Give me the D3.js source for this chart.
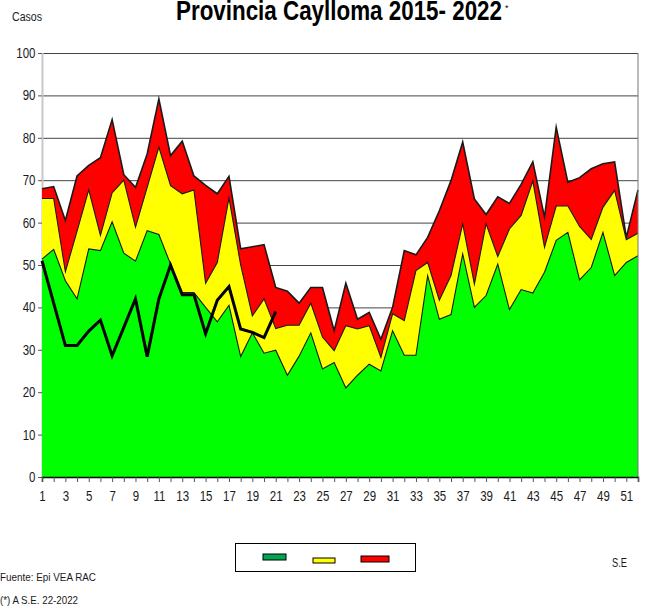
<!DOCTYPE html>
<html>
<head>
<meta charset="utf-8">
<script src="https://cdn.jsdelivr.net/npm/d3@7/dist/d3.min.js"></script>
<style>
  body { margin: 0; background: #fff; }
  text { font-family: "Liberation Sans Narrow", "Arial Narrow", "Liberation Sans", Arial, sans-serif; fill: #1a1a1a; }
</style>
</head>
<body>
<div id="chart"></div>
<script>
// semanas epidemiologicas
const weeks = d3.range(1, 53);

// limites del canal endemico (casos)
const zonaExito = [51.4, 53.7, 46.3, 42, 53.8, 53.4, 60.2, 52.8, 50.9, 58.1, 57.2, 50.2, 43.5,
    43.5, 40, 36.6, 40.5, 28.4, 34, 29.2, 29.9, 24, 28.5, 34, 25.5, 27, 21, 24, 26.6, 25, 34.5,
    28.7, 28.7, 47.5, 37.2, 38.3, 52.6, 40, 42.8, 50.2, 39.5, 44.2, 43.4, 48.3, 55.8, 57.7, 46.5,
    49.4, 57.7, 47.5, 50.6, 52.2];
const zonaSeguridad = [65.7, 65.7, 48.4, 58, 67.7, 57, 67, 70, 58.9, 68.3, 77.8, 68.7, 66.8,
    67.7, 45.7, 50.6, 65.8, 50, 38, 42, 35, 35.8, 35.8, 41, 33, 29.8, 35.7, 34.9, 35.7, 28.2, 38.5,
    36.9, 48.7, 50.6, 41.7, 47.5, 59.7, 45.5, 59.7, 52, 58.5, 61.7, 69.8, 54.2, 63.9, 63.9, 59.1,
    56, 63.6, 67.6, 56, 57.5];
const zonaAlarma = [68, 68.5, 60.5, 71, 73.5, 75.3, 84.3, 71.3, 68.3, 76.2, 89.2, 75.8, 79.2,
    71, 68.8, 66.8, 70.9, 53.8, 54.3, 54.8, 44.7, 43.8, 41, 44.7, 44.7, 34.5, 45.7, 37.2, 38.8,
    32.5, 40, 53.4, 52.4, 56.5, 62.8, 69.9, 79, 65.6, 61.9, 66.1, 64.5, 69, 74.3, 61.3, 82.5, 69.5,
    70.6, 72.7, 73.9, 74.3, 56.5, 67.7];

// casos 2022 (hasta la S.E. 21)
const casos2022 = [51, 41, 31, 31, 34.4, 37, 28.6, 35.3, 42, 28.4, 42, 50, 43, 43, 33.8, 41.7,
    44.9, 34.9, 34.1, 32.9, 39];

const yTicks = d3.range(0, 101, 10);
const xTickLabels = weeks.filter(w => w % 2 === 1);

const zoneColors = ["#ff0000", "#ffff00", "#00ff00"];
const legendColors = ["#00a651", "#ffff00", "#ff0000"];


class EndemicChart {

    constructor(parentElement) {
        this.parentElement = parentElement;
        this.initVis();
    }

    initVis() {
        let vis = this;

        vis.margin = {top: 53, right: 7, bottom: 132, left: 42};
        vis.width = 645 - vis.margin.left - vis.margin.right;
        vis.height = 609 - vis.margin.top - vis.margin.bottom;

        vis.root = d3.select("#" + vis.parentElement).append("svg")
            .attr("width", 645)
            .attr("height", 609);

        vis.svg = vis.root.append("g")
            .attr("transform", "translate(" + vis.margin.left + "," + vis.margin.top + ")");

        vis.x = d3.scaleLinear()
            .domain([1, 52])
            .range([0, vis.width]);

        vis.y = d3.scaleLinear()
            .domain([0, 100])
            .range([vis.height, 0]);

        // titulo y textos (letra angosta como en el original)
        vis.root.append("text")
            .attr("x", 176)
            .attr("y", 20)
            .attr("textLength", 326)
            .attr("lengthAdjust", "spacingAndGlyphs")
            .style("font-size", "27px")
            .style("font-weight", "bold")
            .style("fill", "#000")
            .text("Provincia Caylloma 2015- 2022");

        vis.root.append("text")
            .attr("x", 505)
            .attr("y", 11)
            .style("font-size", "9px")
            .style("fill", "#000")
            .text("*");

        let notes = [
            {text: "Casos", x: 12, y: 21, size: 12, len: 30},
            {text: "S.E", x: 612, y: 567, size: 12, len: 15},
            {text: "Fuente:  Epi VEA RAC", x: 0, y: 581, size: 11, len: 96},
            {text: "(*) A S.E. 22-2022", x: 0, y: 604, size: 11, len: 78}
        ];
        vis.root.selectAll(".note")
            .data(notes)
            .enter().append("text")
            .attr("class", "note")
            .attr("x", d => d.x)
            .attr("y", d => d.y)
            .attr("textLength", d => d.len)
            .attr("lengthAdjust", "spacingAndGlyphs")
            .style("font-size", d => d.size + "px")
            .text(d => d.text);

        vis.updateVis();
    }

    updateVis() {
        let vis = this;

        // lineas de cuadricula
        vis.svg.append("g")
            .selectAll("line")
            .data(yTicks.filter(d => d > 0))
            .enter().append("line")
            .attr("x1", 0)
            .attr("x2", vis.width)
            .attr("y1", d => vis.y(d) + 0.5)
            .attr("y2", d => vis.y(d) + 0.5)
            .attr("stroke", "#444")
            .attr("stroke-width", 1);

        vis.svg.append("line")
            .attr("x1", 0.5).attr("x2", 0.5)
            .attr("y1", 0).attr("y2", vis.height)
            .attr("stroke", "#c8c8c8")
            .attr("stroke-width", 2);

        // areas del canal endemico
        let zones = [zonaAlarma, zonaSeguridad, zonaExito];

        let area = d3.area()
            .x((d, i) => vis.x(weeks[i]))
            .y0(vis.height)
            .y1(d => vis.y(d));

        let edge = d3.line()
            .x((d, i) => vis.x(weeks[i]))
            .y(d => vis.y(d));

        zones.forEach(function (zone, i) {
            vis.svg.append("path")
                .datum(zone)
                .attr("fill", zoneColors[i])
                .attr("d", area);
            vis.svg.append("path")
                .datum(zone)
                .attr("fill", "none")
                .attr("stroke", "#1a1a1a")
                .attr("stroke-width", i === 0 ? 1.6 : 1.1)
                .attr("stroke-miterlimit", 20)
                .attr("d", edge);
        });

        // casos 2022
        vis.svg.append("path")
            .datum(casos2022)
            .attr("fill", "none")
            .attr("stroke", "#000")
            .attr("stroke-width", 3)
            .attr("stroke-linejoin", "miter")
            .attr("d", edge);

        // borde derecho
        vis.svg.append("line")
            .attr("x1", vis.width).attr("x2", vis.width)
            .attr("y1", 0).attr("y2", vis.height)
            .attr("stroke", "#777")
            .attr("stroke-width", 1);

        // ejes
        let yAxis = d3.axisLeft(vis.y)
            .tickValues(yTicks)
            .tickSize(4)
            .tickPadding(4);

        let xAxis = d3.axisBottom(vis.x)
            .tickValues(weeks)
            .tickSize(5)
            .tickPadding(9)
            .tickFormat(d => xTickLabels.includes(d) ? d : "");

        let gy = vis.svg.append("g")
            .attr("class", "y-axis axis")
            .call(yAxis);
        gy.select(".domain").remove();
        gy.selectAll("line").attr("stroke", "#555");
        gy.selectAll("text")
            .style("font-size", "14px")
            .style("font-family", null)
            .attr("transform", "scale(0.82,1)");

        let gx = vis.svg.append("g")
            .attr("class", "x-axis axis")
            .attr("transform", "translate(0," + vis.height + ")")
            .call(xAxis);
        gx.select(".domain").attr("stroke", "#000").attr("stroke-width", 1.5);
        gx.selectAll("line").attr("stroke", "#555");
        gx.selectAll("text")
            .style("font-size", "14px")
            .style("font-family", null)
            .attr("transform", "scale(0.82,1)");

        // leyenda
        let legend = vis.root.append("g");
        legend.append("rect")
            .attr("x", 235.5).attr("y", 543.5)
            .attr("width", 180).attr("height", 28)
            .attr("fill", "#fff")
            .attr("stroke", "#000")
            .attr("stroke-width", 1);

        let legendItems = [
            {x: 263, y: 554, w: 23, h: 6},
            {x: 313, y: 558, w: 22, h: 5},
            {x: 361, y: 556, w: 28, h: 6}
        ];
        legend.selectAll(".key")
            .data(legendItems)
            .enter().append("rect")
            .attr("class", "key")
            .attr("x", d => d.x)
            .attr("y", d => d.y)
            .attr("width", d => d.w)
            .attr("height", d => d.h)
            .attr("fill", (d, i) => legendColors[i])
            .attr("stroke", "#000")
            .attr("stroke-width", 1);
    }
}

new EndemicChart("chart");
</script>
</body>
</html>
